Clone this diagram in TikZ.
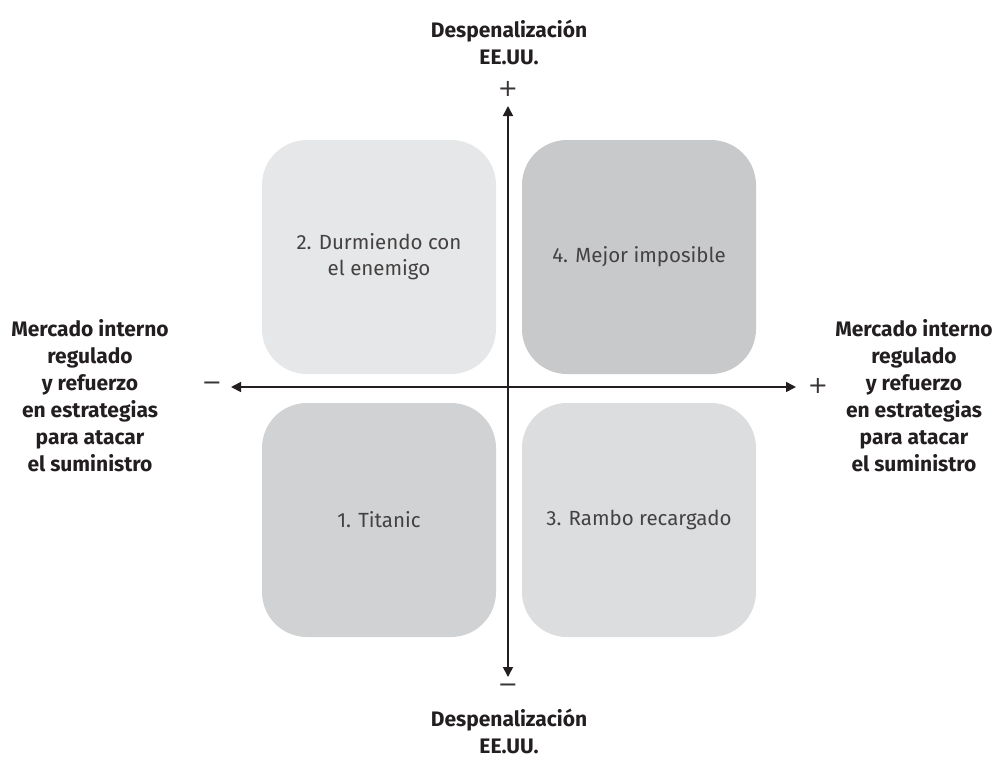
\documentclass[tikz,border=0pt]{standalone}
\usepackage{fontspec}
\setmainfont{Fira Sans}
\newfontfamily\signfont{DejaVu Sans}
\usetikzlibrary{arrows.meta}
\definecolor{boxA}{HTML}{E6E7E8}
\definecolor{boxB}{HTML}{C8C9CB}
\definecolor{boxC}{HTML}{D1D2D4}
\definecolor{boxD}{HTML}{DCDDDF}
\definecolor{ink}{HTML}{231F20}
\tikzset{
  quad/.style={rounded corners=45pt, minimum width=234pt, minimum height=234pt,
    inner sep=0pt, align=center, text=ink!85, font=\fontsize{20.5}{26}\selectfont},
  axis/.style={line width=1.6pt, draw=ink, -{Triangle[length=10pt,width=10pt]}},
  lab/.style={align=center, text=ink, font=\bfseries\fontsize{21}{27}\selectfont},
  axsign/.style={text=ink!90, inner sep=0pt, font=\signfont\fontsize{24}{24}\selectfont}
}
\begin{document}
\begin{tikzpicture}[x=1pt,y=-1pt]
            \useasboundingbox (0,0) rectangle (997,764);
            % quadrants
            \node[quad, fill=boxA] (q2) at (379,257) {2. Durmiendo con\\el enemigo};
            \node[quad, fill=boxB] (q4) at (639,257) {4. Mejor imposible};
            \node[quad, fill=boxC] (q1) at (379,520) {1. Titanic};
            \node[quad, fill=boxD] (q3) at (639,520) {3. Rambo recargado};
            
            % axes
            \coordinate (o) at (508,387);
            \coordinate (top) at (508,106);
            \coordinate (bot) at (508,677);
            \coordinate (lft) at (231,387);
            \coordinate (rgt) at (796,387);
            \draw[axis] (o) to (top);
            \draw[axis] (o) to (bot);
            \draw[axis] (o) to (lft);
            \draw[axis] (o) to (rgt);
            
            \node[axsign] (ptop) at (508,89) {+};
            \node[axsign] (mbot) at (508,688) {−};
            \node[axsign] (mlft) at (212,386) {−};
            \node[axsign] (prgt) at (818,386) {+};
            
            % labels
            \node[lab] (ltop) at (509,42) {Despenalización\\EE.UU.};
            \node[lab] (lbot) at (509,731) {Despenalización\\EE.UU.};
            \node[lab] (llft) at (90,396) {Mercado interno\\regulado\\y refuerzo\\en estrategias\\para atacar\\el suministro};
            \node[lab] (lrgt) at (914,396) {Mercado interno\\regulado\\y refuerzo\\en estrategias\\para atacar\\el suministro};
\end{tikzpicture}
\end{document}
